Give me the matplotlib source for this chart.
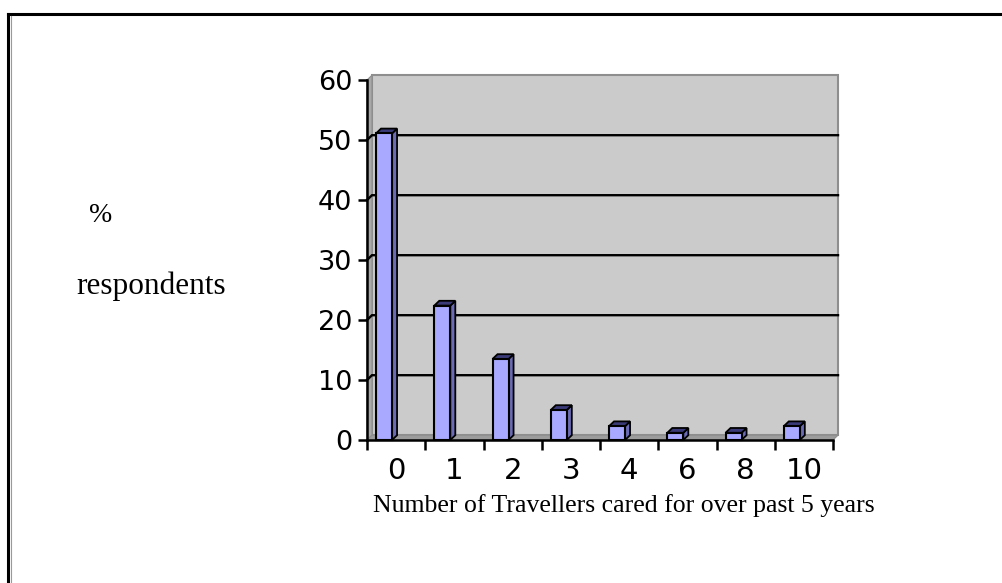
import matplotlib
matplotlib.use("Agg")
import matplotlib.pyplot as plt
import numpy as np
from matplotlib.patches import Polygon
from matplotlib.lines import Line2D

categories = ["0", "1", "2", "3", "4", "6", "8", "10"]
values = [51.1, 22.4, 13.5, 5.0, 2.3, 1.2, 1.2, 2.3]
y_ticks = [0, 10, 20, 30, 40, 50, 60]
x_title = "Number of Travellers cared for over past 5 years"
y_title_1 = "%"
y_title_2 = "respondents"

W, H = 1002, 583
fig = plt.figure(figsize=(W / 100, H / 100), dpi=100)
fig.patch.set_facecolor("white")

# outer frame (top and left visible)
fig.add_artist(Line2D([8 / W, 1.0], [1 - 14 / H, 1 - 14 / H], color="black", lw=2.2))
fig.add_artist(Line2D([8 / W, 8 / W], [0.0, 1 - 14 / H], color="black", lw=2.2))
fig.add_artist(Line2D([10.5 / W, 10.5 / W], [0.0, 1 - 16 / H], color="#9a9a9a", lw=0.8))

ax = fig.add_axes([367 / W, 1 - 440 / H, 466 / W, 360 / H])
n = len(categories)
x0, x1 = -0.5, n - 0.5
ymax = y_ticks[-1]
ax.set_xlim(x0, x1)
ax.set_ylim(0, ymax)
ax.patch.set_visible(False)

dx, dy = 0.086, 0.8

# 3D walls
wall = Polygon([(x0 + dx, dy), (x1 + dx, dy), (x1 + dx, ymax + dy), (x0 + dx, ymax + dy)],
               closed=True, fc="#CBCBCB", ec="#8E8E8E", lw=1.5, clip_on=False, zorder=0)
side = Polygon([(x0, 0), (x0 + dx, dy), (x0 + dx, ymax + dy), (x0, ymax)],
               closed=True, fc="#A8A8A8", ec="#8E8E8E", lw=0.8, clip_on=False, zorder=0)
floor = Polygon([(x0, 0), (x1, 0), (x1 + dx, dy), (x0 + dx, dy)],
                closed=True, fc="#9C9C9C", ec="#8E8E8E", lw=0.8, clip_on=False, zorder=0)
for p in (wall, side, floor):
    ax.add_patch(p)

for t in y_ticks[1:-1]:
    ax.plot([x0, x0 + dx, x1 + dx], [t, t + dy, t + dy], color="black", lw=1.7,
            zorder=1, clip_on=False, solid_joinstyle="miter")

# bars
xs = np.arange(n)
bw = 0.275
lefts = xs - 0.5 + 0.155
front_c = "#A9A9FF"
side_c = "#6B6BB5"
top_c = "#3A3A78"
for l, v in zip(lefts, values):
    r = l + bw
    ax.add_patch(Polygon([(r, 0), (r + dx, dy), (r + dx, v + dy), (r, v)], closed=True,
                         fc=side_c, ec="black", lw=1.3, zorder=3, clip_on=False))
    ax.add_patch(Polygon([(l, v), (r, v), (r + dx, v + dy), (l + dx, v + dy)], closed=True,
                         fc=top_c, ec="black", lw=1.3, zorder=3, clip_on=False))
ax.bar(lefts, values, width=bw, align="edge", color=front_c, edgecolor="black",
       linewidth=1.5, zorder=4, clip_on=False)

# spines / ticks
for s in ("top", "right"):
    ax.spines[s].set_visible(False)
for s in ("left", "bottom"):
    ax.spines[s].set_linewidth(1.8)
    ax.spines[s].set_color("black")
    ax.spines[s].set_zorder(5)

ax.set_yticks(y_ticks)
ax.set_yticklabels([str(t) for t in y_ticks])
ax.tick_params(axis="y", direction="out", length=6.5, width=1.8, pad=4.0,
               labelsize=19.5, colors="black")

ax.set_xticks(np.arange(n + 1) - 0.5)
ax.set_xticklabels([])
ax.tick_params(axis="x", which="major", direction="out", length=7, width=1.8)
ax.set_xticks(xs, minor=True)
ax.set_xticklabels(categories, minor=True)
ax.tick_params(axis="x", which="minor", length=0, pad=12, labelsize=21)

fig.text(624 / W, 1 - 506 / H, x_title, ha="center", va="center",
         fontfamily="Liberation Serif", fontsize=18.5)
fig.text(89 / W, 1 - 215 / H, y_title_1, ha="left", va="center",
         fontfamily="Liberation Serif", fontsize=20)
fig.text(76 / W, 1 - 294 / H, y_title_2, ha="left", va="baseline",
         fontfamily="Liberation Serif", fontsize=22.5)

fig.savefig("out.png", dpi=100)
